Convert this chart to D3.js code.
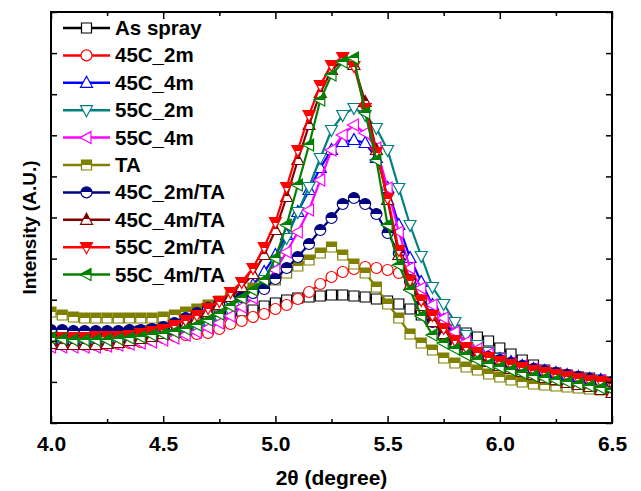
<!DOCTYPE html>
<html><head><meta charset="utf-8">
<script src="https://cdn.jsdelivr.net/npm/d3@7"></script>
<style>
body{margin:0;background:#fff}
svg{display:block}
text{font-family:"Liberation Sans",Arial,sans-serif;font-weight:bold;fill:#000}
</style>
</head><body>
<svg id="c" width="641" height="491"></svg>
<script>
// ---------------- data ----------------
const twoTheta = [4.00,4.05,4.10,4.15,4.20,4.25,4.30,4.35,4.40,4.45,4.50,4.55,4.60,4.65,4.70,4.75,4.80,4.85,4.90,4.95,
  5.00,5.05,5.10,5.15,5.20,5.25,5.30,5.35,5.40,5.45,5.50,5.55,5.60,5.65,5.70,5.75,5.80,5.85,5.90,5.95,
  6.00,6.05,6.10,6.15,6.20,6.25,6.30,6.35,6.40,6.45,6.50];

const asSpray  = [88,88,88,88,89,89,90,91,92,93,95,97,99,102,105,107,110,112,113,117,120,123,125,126,127,128,128,127,126,124,122,119,114,108,103,97,93,90,86,82,75,69,63,58,53,50,48,46,45,43,41];
const s45C2m   = [80,79,79,78,78,78,79,80,81,83,85,87,88,89,90,94,99,102,106,109,114,118,124,131,139,146,151,154,156,155,153,150,141,123,105,90,80,74,70,66,63,60,57,54,52,50,48,46,44,42,40];
const s45C4m   = [83,82,82,82,82,83,84,85,86,87,88,90,93,97,102,108,116,127,138,151,168,188,211,233,255,273,281,283,280,265,235,198,165,141,118,103,90,81,74,69,64,61,57,54,52,50,48,46,44,43,41];
const s55C2m   = [82,81,81,81,81,82,83,84,85,86,87,89,92,95,99,104,111,120,131,143,161,185,211,236,265,293,308,315,308,295,273,235,198,167,136,119,101,88,78,71,65,60,56,53,50,48,46,44,42,41,39];
const s55C4m   = [76,76,76,76,76,77,78,79,80,81,83,85,88,91,95,100,107,116,125,137,153,171,191,213,243,273,288,298,290,275,235,191,155,135,118,105,91,81,74,69,64,60,57,54,51,49,47,45,43,42,40];
const sTA      = [111,108,106,105,105,105,105,105,105,105,106,108,111,114,118,122,126,131,135,139,143,150,157,163,170,176,168,159,150,136,119,105,89,80,73,65,60,56,53,49,46,43,41,39,38,37,36,35,34,33,32];
const s45C2mTA = [93,93,92,92,92,92,92,93,93,94,96,100,105,110,115,120,124,126,130,134,144,155,166,179,193,205,219,225,219,209,190,170,143,118,101,88,78,73,69,66,63,60,57,54,52,50,48,46,44,42,41];
const s45C4mTA = [79,78,78,78,78,79,80,82,84,86,89,93,98,104,111,118,126,136,149,168,193,226,263,298,330,353,363,358,321,273,223,168,138,117,101,89,79,72,66,61,57,54,51,48,45,43,40,38,36,33,30];
const s55C2mTA = [86,86,86,86,87,87,87,88,90,92,94,98,103,108,115,122,131,141,155,176,201,236,273,308,338,358,366,357,315,271,225,173,143,123,108,95,83,76,71,66,62,59,56,53,51,49,47,45,43,42,40];
const s55C4mTA = [85,84,83,83,83,83,84,85,86,88,89,91,94,98,103,109,117,125,133,143,165,198,238,278,323,348,361,365,310,263,198,158,133,107,88,80,74,68,63,59,56,53,50,47,45,43,41,39,37,35,33];

const seriesNames  = ["As spray","45C_2m","45C_4m","55C_2m","55C_4m","TA","45C_2m/TA","45C_4m/TA","55C_2m/TA","55C_4m/TA"];
const seriesValues = [asSpray,s45C2m,s45C4m,s55C2m,s55C4m,sTA,s45C2mTA,s45C4mTA,s55C2mTA,s55C4mTA];
const seriesColors = ["#000000","#ff0000","#0000ff","#008080","#ff00ff","#808000","#000080","#800000","#ff0000","#008000"];
const seriesShapes = ["square","circle","up","down","left","square","circle","up","down","left"];
const seriesHalf   = [false,false,false,false,false,true,true,true,true,true];

const xMajorTicks = [4.0,4.5,5.0,5.5,6.0,6.5];
const xTickLabels = ["4.0","4.5","5.0","5.5","6.0","6.5"];
const xMinorTicks = [4.25,4.75,5.25,5.75,6.25];
const yTickValues = [0,41.1,82.2,123.3,164.4,205.5,246.6,287.7,328.8,369.9,411];
const xTitle = "2θ (degree)";
const yTitle = "Intensity (A.U.)";

// ---------------- layout ----------------
const svg = d3.select("#c");
const L = 51, R = 612, T = 12, B = 423;
const x = d3.scaleLinear().domain([4, 6.5]).range([L, R]);
const y = d3.scaleLinear().domain([0, 411]).range([B, T]);

const defs = svg.append("defs");
defs.append("clipPath").attr("id","plotclip").append("rect")
  .attr("x", L).attr("y", T).attr("width", R - L).attr("height", B - T);
seriesColors.forEach((c,i) => {
  const g = defs.append("linearGradient").attr("id","half"+i)
    .attr("x1",0).attr("y1",0).attr("x2",0).attr("y2",1);
  g.append("stop").attr("offset","0.5").attr("stop-color",c);
  g.append("stop").attr("offset","0.5").attr("stop-color","#fff");
});

function shapePath(shape){
  switch(shape){
    case "square": return "M-5,-5H5V5H-5Z";
    case "up":     return "M0,-6.5L6,4.5H-6Z";
    case "down":   return "M0,6.5L6,-4.5H-6Z";
    case "left":   return "M-6.5,0L4.5,-6V6Z";
  }
  return null;
}
function drawMarker(g, shape, i, cx, cy){
  const fill = seriesHalf[i] ? `url(#half${i})` : "#fff";
  let el;
  if (shape === "circle") {
    el = g.append("circle").attr("cx",cx).attr("cy",cy).attr("r",5.5);
  } else {
    el = g.append("path").attr("d", shapePath(shape)).attr("transform",`translate(${cx},${cy})`);
  }
  el.attr("fill", fill).attr("stroke", seriesColors[i]).attr("stroke-width", 1.2);
}

// ---------------- series ----------------
const plot = svg.append("g").attr("clip-path","url(#plotclip)");
const line = d3.line().x((d,k) => x(twoTheta[k])).y(d => y(d));
seriesValues.forEach((vals, i) => {
  const g = plot.append("g");
  g.append("path").datum(vals).attr("d", line)
    .attr("fill","none").attr("stroke", seriesColors[i]).attr("stroke-width", 2.2);
  vals.forEach((v,k) => drawMarker(g, seriesShapes[i], i, x(twoTheta[k]), y(v)));
});

// ---------------- axes ----------------
const axB = svg.append("g").attr("transform",`translate(0,${B})`)
  .call(d3.axisBottom(x).tickValues(xMajorTicks).tickFormat((d,k)=>xTickLabels[k])
    .tickSizeInner(-7).tickSizeOuter(0).tickPadding(13));
axB.selectAll("text").attr("font-size", 21).attr("dy","0.71em")
  .style("font-family",'"Liberation Sans",Arial,sans-serif').style("font-weight","bold");
svg.append("g").attr("transform",`translate(0,${B})`)
  .call(d3.axisBottom(x).tickValues(xMinorTicks).tickFormat("").tickSizeInner(-4).tickSizeOuter(0));
svg.append("g").attr("transform",`translate(0,${T})`)
  .call(d3.axisTop(x).tickValues(xMajorTicks).tickFormat("").tickSizeInner(-7).tickSizeOuter(0));
svg.append("g").attr("transform",`translate(0,${T})`)
  .call(d3.axisTop(x).tickValues(xMinorTicks).tickFormat("").tickSizeInner(-4).tickSizeOuter(0));
svg.append("g").attr("transform",`translate(${L},0)`)
  .call(d3.axisLeft(y).tickValues(yTickValues).tickFormat("").tickSizeInner(-6).tickSizeOuter(0));
svg.append("g").attr("transform",`translate(${R},0)`)
  .call(d3.axisRight(y).tickValues(yTickValues).tickFormat("").tickSizeInner(-6).tickSizeOuter(0));
svg.selectAll(".domain").remove();
svg.selectAll(".tick line").attr("stroke","#000").attr("stroke-width",1.5);
svg.append("rect").attr("x",L).attr("y",T).attr("width",R-L).attr("height",B-T)
  .attr("fill","none").attr("stroke","#000").attr("stroke-width",2);

// titles
svg.append("text").attr("x",(L+R)/2).attr("y",485).attr("text-anchor","middle")
  .attr("font-size",21).text(xTitle);
svg.append("text").attr("transform",`translate(36,${(T+B)/2 + 10}) rotate(-90)`)
  .attr("text-anchor","middle").attr("font-size",19).text(yTitle);

// ---------------- legend ----------------
const leg = svg.append("g");
seriesNames.forEach((name,i) => {
  const cy = 28 + i*27.4;
  leg.append("line").attr("x1",63).attr("x2",110).attr("y1",cy).attr("y2",cy)
    .attr("stroke",seriesColors[i]).attr("stroke-width",2.5);
  drawMarker(leg, seriesShapes[i], i, 86.5, cy);
  leg.append("text").attr("x",115).attr("y",cy+7).attr("font-size",20.5).text(name);
});
</script>
</body></html>
